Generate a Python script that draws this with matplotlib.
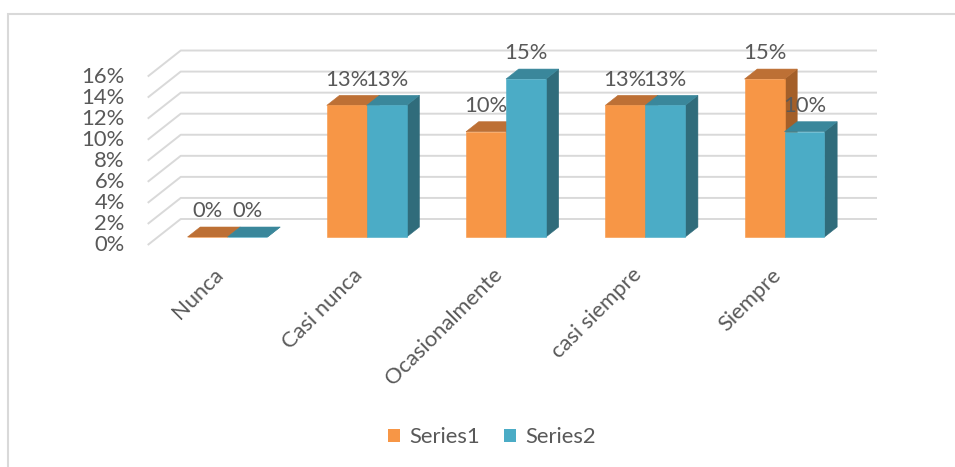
import matplotlib.pyplot as plt
from matplotlib.patches import Polygon, Rectangle, Patch

plt.rcParams["font.family"] = ["Lato", "DejaVu Sans"]

# ----------------------------
# Data
# ----------------------------
categories = ["Nunca", "Casi nunca", "Ocasionalmente", "casi siempre", "Siempre"]
series1 = [0, 12.5, 10, 12.5, 15]
series2 = [0, 12.5, 15, 12.5, 10]
series_names = ["Series1", "Series2"]
y_ticks = [0, 2, 4, 6, 8, 10, 12, 14, 16]

# face colours: front, top, side
orange = ("#F79646", "#BD7035", "#A45F29")
blue = ("#4BACC6", "#3A879B", "#306C7B")
grid_col = "#D9D9D9"
text_col = "#595959"
fs = 15.8

# ----------------------------
# Figure / fake 3D frame
# ----------------------------
W, H = 955, 467
fig = plt.figure(figsize=(W / 100, H / 100), dpi=100)
ax = fig.add_axes([0, 0, 1, 1])

# pixels per category and per percent point, origin of the bar front plane
px_x, px_y = 139.25, 10.53
x0, y0 = 227.5, 237
ax.set_xlim(-x0 / px_x, (W - x0) / px_x)
ax.set_ylim(-(H - y0) / px_y, y0 / px_y)
ax.axis("off")


def depth(x, y, d):
    # oblique projection: each pixel of depth goes 1.27 px right and 1 px up
    return (x + d * 1.27 / px_x, y + d / px_y)


FRONT, BAR_BACK, WALL = -8, 10, 18
n = len(categories)
left_edge, right_edge = -0.5, n - 0.5

# gridlines: side wall diagonals + back wall
for v in y_ticks:
    a = depth(left_edge, v, FRONT)
    b = depth(left_edge, v, WALL)
    c = depth(right_edge, v, WALL)
    ax.plot([a[0], b[0], c[0]], [a[1], b[1], c[1]], color=grid_col, lw=1.4,
            solid_capstyle="butt", zorder=1)
    ax.annotate(f"{v}%", xy=a, xytext=(-16.5, 0), textcoords="offset points",
                ha="right", va="center", fontsize=fs, color=text_col)

# ----------------------------
# Bars
# ----------------------------
w = 0.287


def bar(xl, h, cols):
    xr = xl + w
    front = [(xl, 0), (xr, 0), (xr, h), (xl, h)]
    top = [(xl, h), (xr, h), depth(xr, h, BAR_BACK), depth(xl, h, BAR_BACK)]
    side = [(xr, 0), depth(xr, 0, BAR_BACK), depth(xr, h, BAR_BACK), (xr, h)]
    for pts, col in ((side, cols[2]), (top, cols[1]), (front, cols[0])):
        ax.add_patch(Polygon(pts, closed=True, facecolor=col, edgecolor=col,
                             lw=0.4, zorder=3))


def pct(v):
    return f"{int(v + 0.5)}%"


for i in range(n):
    bar(i - w, series1[i], orange)
    bar(i, series2[i], blue)

for i in range(n):
    for xl, v in ((i - w, series1[i]), (i, series2[i])):
        ax.annotate(pct(v), xy=(xl + w / 2, v), xytext=(0, 18.5),
                    textcoords="offset points", ha="center", va="center",
                    fontsize=fs, color=text_col, zorder=5)

# category labels
for i, cat in enumerate(categories):
    ax.text(i - 0.05, -3.3, cat, rotation=45, rotation_mode="anchor",
            ha="right", va="center", fontsize=fs, color=text_col)

# legend
handles = [Patch(facecolor=orange[0]), Patch(facecolor=blue[0])]
fig.legend(handles, series_names, loc="center", bbox_to_anchor=(0.515, 0.064),
           ncol=2, frameon=False, fontsize=fs, labelcolor=text_col,
           handlelength=0.55, handleheight=0.55, handletextpad=0.4,
           columnspacing=1.1)

# chart area border
fig.patches.append(Rectangle((8 / W, -0.05), 1.05, 1 - 14 / H + 0.05,
                             transform=fig.transFigure, fill=False,
                             edgecolor=grid_col, lw=1.5))

fig.savefig("out.png", dpi=100)
